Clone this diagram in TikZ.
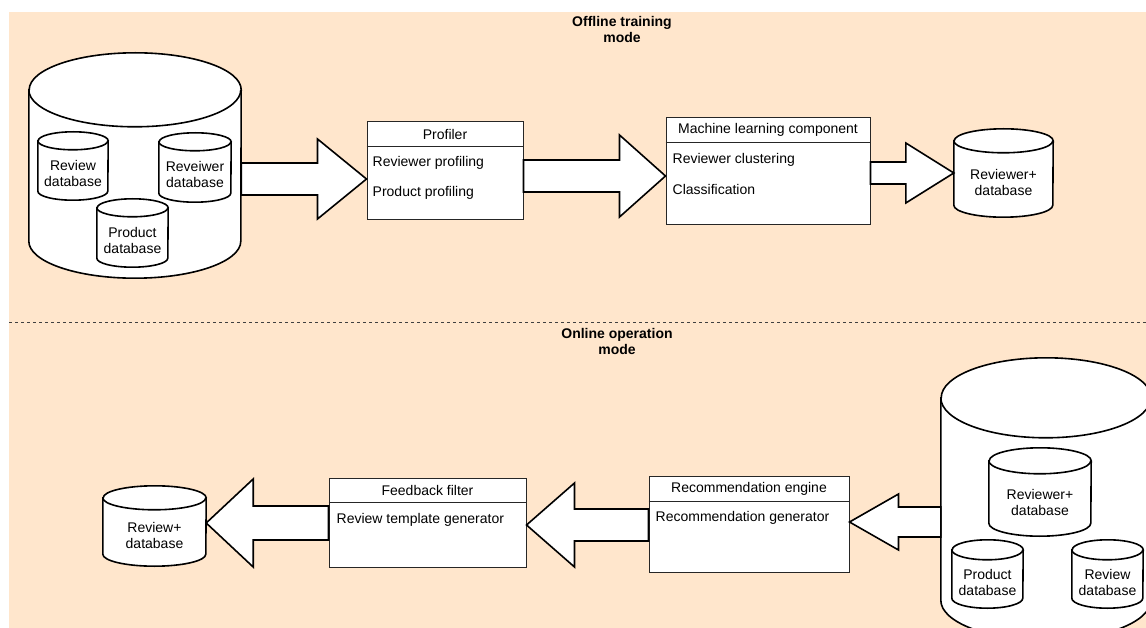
\documentclass[tikz,border=0pt]{standalone}
\usepackage{fontspec}
\setmainfont{Liberation Sans}
\usetikzlibrary{calc}
\definecolor{peach}{HTML}{FFE6CC}
\newcommand\dbcyl[7]{% name, cx, cy, w, h, ry, text
  \node[minimum width=#4pt, minimum height=#5pt, inner sep=0pt] (#1) at (#2,#3) {};
  \draw[cyl] ($(#1.north west)+(0,#6)$) -- ($(#1.south west)+(0,-#6)$)
     arc[start angle=180, end angle=360, x radius=#4pt/2, y radius=#6pt]
     -- ($(#1.north east)+(0,#6)$)
     arc[start angle=0, end angle=180, x radius=#4pt/2, y radius=#6pt] -- cycle;
  \draw[cyl, fill=none] ($(#1.north west)+(0,#6)$)
     arc[start angle=180, end angle=360, x radius=#4pt/2, y radius=#6pt];
  \node[txt] (#1-t) at ($(#1.center)+(0,0.8*#6)$) {#7};
}
\newcommand\blockarr[5]{% from, to, shaft half, head half, head length (signed)
  \draw[blk] let \p1=(#1), \p2=(#2) in
    ({\x1},{\y2+#3}) -- ({\x2-(#5)},{\y2+#3}) -- ({\x2-(#5)},{\y2+#4}) -- ({\x2},{\y2})
    -- ({\x2-(#5)},{\y2-#4}) -- ({\x2-(#5)},{\y2-#3}) -- ({\x1},{\y2-#3}) -- cycle;
}
\begin{document}
\begin{tikzpicture}[x=1pt, y=-1pt, font=\fontsize{14}{16}\selectfont,
  cyl/.style={draw=black, line width=1.6pt, fill=white},
  blk/.style={draw=black, line width=1.6pt, fill=white, line join=miter},
  box/.style={draw=black!85, line width=1pt, fill=white, inner sep=0pt},
  txt/.style={inner sep=0pt, align=center},
  item/.style={inner sep=0pt, anchor=west},
  lane/.style={inner sep=0pt, align=center, font=\bfseries\fontsize{14}{16}\selectfont},
  sep/.style={draw=black!75, line width=0.8pt, dash pattern=on 3pt off 3pt}]
\useasboundingbox (0,0) rectangle (1146,628);
\clip (0,0) rectangle (1146,628);
\fill[peach] (9,12) rectangle (1146,628);
\coordinate (sepL) at (9,322);
\coordinate (sepR) at (1146,322);
\draw[sep] (sepL) -- (sepR);
\node[lane] (offl) at (622,29.5) {Offline training\\mode};
\node[lane] (onl) at (617,341) {Online operation\\mode};

% ---------- offline ----------
\dbcyl{src}{135}{165.5}{212}{225}{37}{}
\dbcyl{rdb}{73}{166}{70}{68}{9}{Review\\database}
\dbcyl{rwdb}{195}{167.5}{72}{69}{9}{Reveiwer\\database}
\dbcyl{pdb}{132.5}{233}{71}{68}{9}{Product\\database}

\node[box, minimum width=156pt, minimum height=98pt] (prof) at (445,171) {};
\draw[box] ($(prof.north west)+(0,25)$) -- ($(prof.north east)+(0,25)$);
\node[txt] (prof-t) at ($(prof.north)+(0,12.5)$) {Profiler};
\node[item] (prof-a) at ($(prof.north west)+(6,41)$) {Reviewer profiling};
\node[item] (prof-b) at ($(prof.north west)+(6,71)$) {Product profiling};

\node[box, minimum width=204pt, minimum height=107pt] (ml) at (768,171.5) {};
\draw[box] ($(ml.north west)+(0,25)$) -- ($(ml.north east)+(0,25)$);
\node[txt] (ml-t) at ($(ml.north)+(0,12.5)$) {Machine learning component};
\node[item] (ml-a) at ($(ml.north west)+(7,42)$) {Reviewer clustering};
\node[item] (ml-b) at ($(ml.north west)+(7,72)$) {Classification};

\dbcyl{rvp}{1003.5}{173}{99}{88}{12}{Reviewer+\\database}

\blockarr{src.east}{$(prof.west)+(0,8)$}{16pt}{40pt}{49pt}
\blockarr{prof.east}{$(ml.west)+(0,4.5)$}{16pt}{41pt}{46pt}
\blockarr{ml.east}{rvp.west}{11pt}{30pt}{48pt}

% ---------- online ----------
\dbcyl{on}{1046}{499}{210}{282}{40}{}
\dbcyl{on-rv}{1040}{492}{102}{88}{13}{Reviewer+\\database}
\dbcyl{on-pd}{987.5}{574}{71}{68}{10}{Product\\database}
\dbcyl{on-rd}{1107.5}{574}{71}{68}{10}{Review\\database}

\node[box, minimum width=200pt, minimum height=96pt] (rec) at (749,524) {};
\draw[box] ($(rec.north west)+(0,26)$) -- ($(rec.north east)+(0,26)$);
\node[txt] (rec-t) at ($(rec.north)+(0,13)$) {Recommendation engine};
\node[item] (rec-a) at ($(rec.north west)+(7,42)$) {Recommendation generator};

\node[box, minimum width=197pt, minimum height=89pt] (ff) at (427.5,522.5) {};
\draw[box] ($(ff.north west)+(0,25)$) -- ($(ff.north east)+(0,25)$);
\node[txt] (ff-t) at ($(ff.north)+(0,12.5)$) {Feedback filter};
\node[item] (ff-a) at ($(ff.north west)+(8,42)$) {Review template generator};

\dbcyl{rvo}{154.5}{526}{103}{80}{12}{Review+\\database}

\blockarr{on.west}{$(rec.east)+(0,-2)$}{15pt}{28pt}{-49pt}
\blockarr{rec.west}{$(ff.east)+(0,2.5)$}{16pt}{42pt}{-48pt}
\blockarr{ff.west}{$(rvo.east)+(0,-3)$}{17pt}{44pt}{-47pt}
\end{tikzpicture}
\end{document}
